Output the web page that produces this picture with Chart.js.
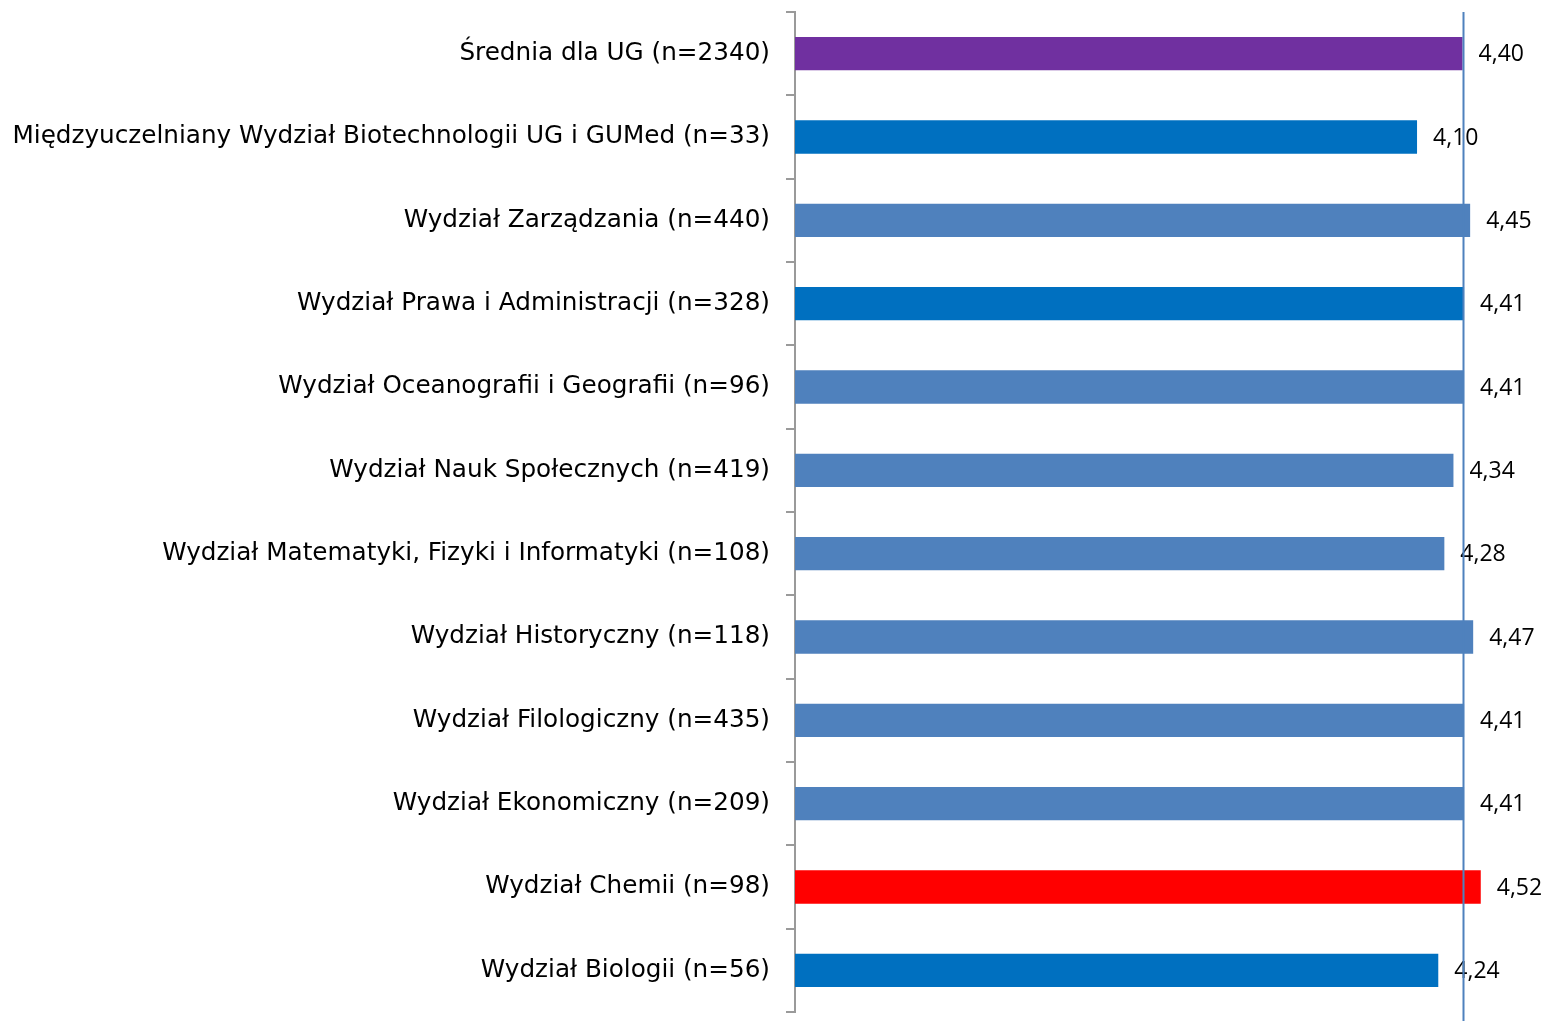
<!DOCTYPE html>
<html>
<head>
<meta charset="UTF-8">
<title>Średnia ocen wydziałów</title>
<style>
	html, body { margin: 0; padding: 0; background: #fff; overflow: hidden; }
	#wrap { width: 1546px; height: 1021px; }
</style>
</head>
<body>
	<div id="wrap">
		<canvas id="barChart" width="1546" height="1021"></canvas>
	</div>

	<script src="https://cdn.jsdelivr.net/npm/chart.js"></script>
	<script>
		// dane
		const faculties = [
			'Średnia dla UG (n=2340)',
			'Międzyuczelniany Wydział Biotechnologii UG i GUMed (n=33)',
			'Wydział Zarządzania (n=440)',
			'Wydział Prawa i Administracji (n=328)',
			'Wydział Oceanografii i Geografii (n=96)',
			'Wydział Nauk Społecznych (n=419)',
			'Wydział Matematyki, Fizyki i Informatyki (n=108)',
			'Wydział Historyczny (n=118)',
			'Wydział Filologiczny (n=435)',
			'Wydział Ekonomiczny (n=209)',
			'Wydział Chemii (n=98)',
			'Wydział Biologii (n=56)'
		];
		const scores = [4.40, 4.10, 4.45, 4.41, 4.41, 4.34, 4.28, 4.47, 4.41, 4.41, 4.52, 4.24];
		const barColors = [
			'#7030A0', '#0070C0', '#4F81BD', '#0070C0', '#4F81BD', '#4F81BD',
			'#4F81BD', '#4F81BD', '#4F81BD', '#4F81BD', '#FF0000', '#0070C0'
		];
		const averageUG = 4.40;
		const xMax = 4.95;

		// etykiety wartości przy słupkach (przecinek dziesiętny)
		const valueLabels = {
			id: 'valueLabels',
			afterDatasetsDraw(chart) {
				const ctx = chart.ctx;
				const meta = chart.getDatasetMeta(0);
				ctx.save();
				ctx.fillStyle = '#000';
				ctx.font = '23px "Open Sans", "Liberation Sans", sans-serif';
				ctx.textAlign = 'left';
				ctx.textBaseline = 'middle';
				meta.data.forEach(function(bar, i) {
					ctx.fillText(scores[i].toFixed(2).replace('.', ','), bar.x + 16, bar.y + 1);
				});
				ctx.restore();
			}
		};

		// pionowa linia średniej UG
		const averageLine = {
			id: 'averageLine',
			afterDatasetsDraw(chart) {
				const ctx = chart.ctx;
				const x = Math.round(chart.scales.x.getPixelForValue(averageUG)) + 0.5;
				ctx.save();
				ctx.strokeStyle = '#4F81BD';
				ctx.lineWidth = 2;
				ctx.beginPath();
				ctx.moveTo(x, chart.chartArea.top);
				ctx.lineTo(x, chart.height);
				ctx.stroke();
				ctx.restore();
			}
		};

		const ctx = document.getElementById('barChart').getContext('2d');
		const barChart = new Chart(ctx, {
			type: 'bar',
			data: {
				labels: faculties,
				datasets: [{
					data: scores,
					backgroundColor: barColors,
					borderWidth: 0,
					barPercentage: 0.4,
					categoryPercentage: 1.0
				}]
			},
			options: {
				indexAxis: 'y',
				responsive: false,
				animation: false,
				layout: {
					padding: { top: 12, bottom: 9, left: 0, right: 0 }
				},
				scales: {
					x: {
						display: false,
						min: 0,
						max: xMax
					},
					y: {
						afterFit: function(scale) {
							scale.width = 795;
							scale.paddingTop = 0;
							scale.paddingBottom = 0;
						},
						border: { display: true, color: '#9A9A9A', width: 2 },
						grid: {
							offset: true,
							drawOnChartArea: false,
							drawTicks: true,
							tickLength: 9,
							tickColor: '#9A9A9A',
							lineWidth: 2
						},
						ticks: {
							color: '#000',
							padding: 16,
							font: { family: '"DejaVu Sans", "Noto Sans", sans-serif', size: 24.7 }
						}
					}
				},
				plugins: {
					legend: { display: false },
					tooltip: { enabled: false }
				}
			},
			plugins: [valueLabels, averageLine]
		});
	</script>
</body>
</html>
